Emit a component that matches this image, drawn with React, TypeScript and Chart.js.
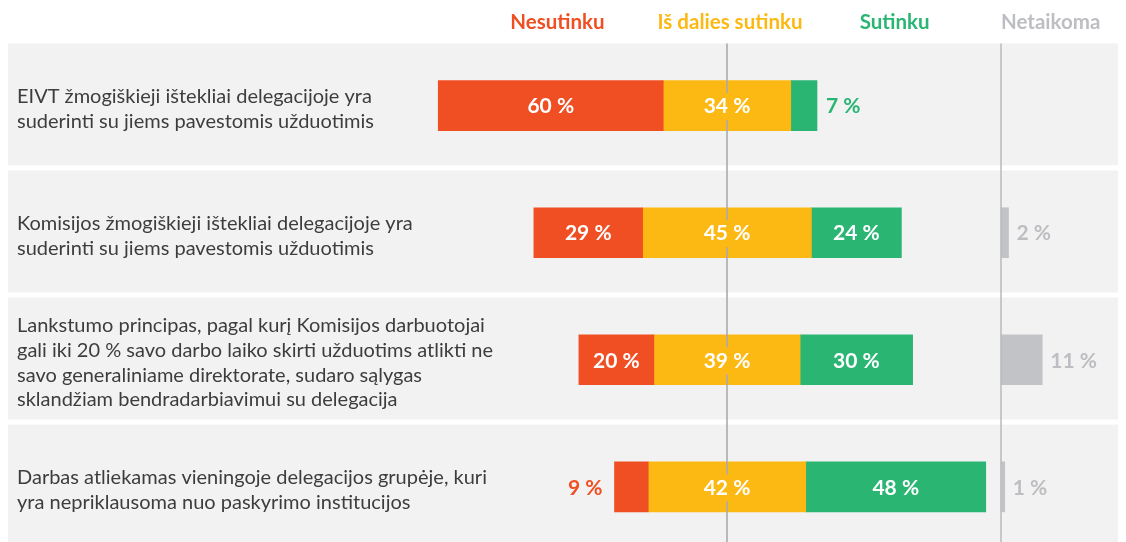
import React, { useEffect, useRef } from "react";
import { Chart, registerables } from "chart.js";

Chart.register(...registerables);

// ---- data ----
const statements: string[][] = [
  ["EIVT žmogiškieji ištekliai delegacijoje yra", "suderinti su jiems pavestomis užduotimis"],
  ["Komisijos žmogiškieji ištekliai delegacijoje yra", "suderinti su jiems pavestomis užduotimis"],
  [
    "Lankstumo principas, pagal kurį Komisijos darbuotojai",
    "gali iki 20 % savo darbo laiko skirti užduotims atlikti ne",
    "savo generaliniame direktorate, sudaro sąlygas",
    "sklandžiam bendradarbiavimui su delegacija",
  ],
  ["Darbas atliekamas vieningoje delegacijos grupėje, kuri", "yra nepriklausoma nuo paskyrimo institucijos"],
];
const seriesNames = ["Nesutinku", "Iš dalies sutinku", "Sutinku", "Netaikoma"];
const disagree = [60, 29, 20, 9];
const partly = [34, 45, 39, 42];
const agree = [7, 24, 30, 48];
const notApplicable = [0, 2, 11, 1];

// ---- style ----
const COLORS = ["#F04E23", "#FDB913", "#2AB573", "#C2C3C7"];
const HEADER_COLORS = ["#F04E23", "#FDB913", "#2AB573", "#BDBEC2"];
const NA_OFFSET = 73.07; // position of the "Netaikoma" baseline on the x scale
const FONT = "Lato, 'Noto Sans', sans-serif";

function buildDatasets() {
  const red: any[] = [], orange: any[] = [], green: any[] = [], gray: any[] = [];
  statements.forEach((_, i) => {
    const h = partly[i] / 2;
    red.push({ y: i, x: [-h - disagree[i], -h], v: disagree[i] });
    orange.push({ y: i, x: [-h, h], v: partly[i] });
    green.push({ y: i, x: [h, h + agree[i]], v: agree[i] });
    if (notApplicable[i] > 0) gray.push({ y: i, x: [NA_OFFSET, NA_OFFSET + notApplicable[i]], v: notApplicable[i] });
  });
  return [red, orange, green, gray].map((data, k) => ({
    label: seriesNames[k],
    data,
    backgroundColor: COLORS[k],
    borderWidth: 0,
    barThickness: 50,
    grouped: false,
  }));
}

const decor = {
  id: "decor",
  beforeDatasetsDraw(chart: any) {
    const { ctx, chartArea, scales } = chart;
    const y = scales.y;
    ctx.save();
    ctx.fillStyle = "#F2F2F2";
    statements.forEach((_, i) => {
      const top = y.getPixelForValue(i - 0.49);
      const bot = y.getPixelForValue(i + 0.47);
      ctx.fillRect(chartArea.left, top, chartArea.right - chartArea.left, bot - top);
    });
    ctx.restore();
  },
  afterDatasetsDraw(chart: any) {
    const { ctx, chartArea, scales } = chart;
    const x = scales.x, y = scales.y;
    ctx.save();
    // reference lines
    const lineTop = y.getPixelForValue(-0.49);
    [
      [0, "#A9AAAD"],
      [NA_OFFSET, "#BCBDC0"],
    ].forEach(([v, c]: any) => {
      const px = x.getPixelForValue(v);
      ctx.strokeStyle = c;
      ctx.lineWidth = 1.6;
      ctx.beginPath();
      ctx.moveTo(px, lineTop);
      ctx.lineTo(px, chartArea.bottom);
      ctx.stroke();
    });

    // value labels
    ctx.font = `bold 21px ${FONT}`;
    ctx.textBaseline = "middle";
    chart.data.datasets.forEach((ds: any, di: number) => {
      const meta = chart.getDatasetMeta(di);
      meta.data.forEach((bar: any, j: number) => {
        const v = ds.data[j].v;
        const { x: bx, base, y: by } = bar.getProps(["x", "base", "y"], true);
        const left = Math.min(bx, base), right = Math.max(bx, base);
        const text = `${v} %`;
        const ty = by + 1;
        if (di === 3) {
          ctx.fillStyle = HEADER_COLORS[3];
          ctx.textAlign = "left";
          ctx.fillText(text, right + 8, ty);
        } else if (v < 10) {
          ctx.fillStyle = COLORS[di];
          if (di === 0) {
            ctx.textAlign = "right";
            ctx.fillText(text, left - 12, ty);
          } else {
            ctx.textAlign = "left";
            ctx.fillText(text, right + 9, ty);
          }
        } else {
          const cx = (left + right) / 2;
          if (di === 1) {
            const w = ctx.measureText(text).width;
            ctx.fillStyle = COLORS[1];
            ctx.fillRect(cx - w / 2 - 2, ty - 13.5, w + 4, 27);
          }
          ctx.fillStyle = "#FFFFFF";
          ctx.textAlign = "center";
          ctx.fillText(text, cx, ty);
        }
      });
    });

    // statement labels
    ctx.font = `20px ${FONT}`;
    ctx.fillStyle = "#3D3D3D";
    ctx.textAlign = "left";
    ctx.textBaseline = "middle";
    const lh = 24.8;
    statements.forEach((lines, i) => {
      const cy = y.getPixelForValue(i) + 3;
      const start = cy - ((lines.length - 1) * lh) / 2;
      lines.forEach((ln, k) => ctx.fillText(ln, chartArea.left + 9, start + k * lh));
    });

    // headers
    ctx.font = `bold 20.5px ${FONT}`;
    const headerAnchors = [-45.2, 0.8, 44.7, NA_OFFSET];
    seriesNames.forEach((name, k) => {
      ctx.fillStyle = HEADER_COLORS[k];
      ctx.textAlign = k === 3 ? "left" : "center";
      ctx.fillText(name, x.getPixelForValue(headerAnchors[k]), 14.5);
    });
    ctx.restore();
  },
};

export default function App() {
  const ref = useRef<HTMLCanvasElement>(null);
  useEffect(() => {
    document.documentElement.style.overflow = "hidden";
    const chart = new Chart(ref.current!, {
      type: "bar",
      data: { datasets: buildDatasets() as any },
      options: {
        indexAxis: "y",
        animation: false,
        responsive: false,
        maintainAspectRatio: false,
        layout: { padding: 0 },
        plugins: { legend: { display: false }, tooltip: { enabled: false }, title: { display: false } },
        scales: {
          x: { type: "linear", display: false, offset: false, min: (8 - 727) / 3.75, max: (1126 - 727) / 3.75 },
          y: { type: "linear", display: false, offset: false, reverse: true, min: -0.7686, max: 3.434 },
        },
      },
      plugins: [decor],
    });
    return () => chart.destroy();
  }, []);
  return (
    <div style={{ width: 1118, height: 534 }}>
      <canvas ref={ref} width={1118} height={534} style={{ display: "block" }} />
    </div>
  );
}
